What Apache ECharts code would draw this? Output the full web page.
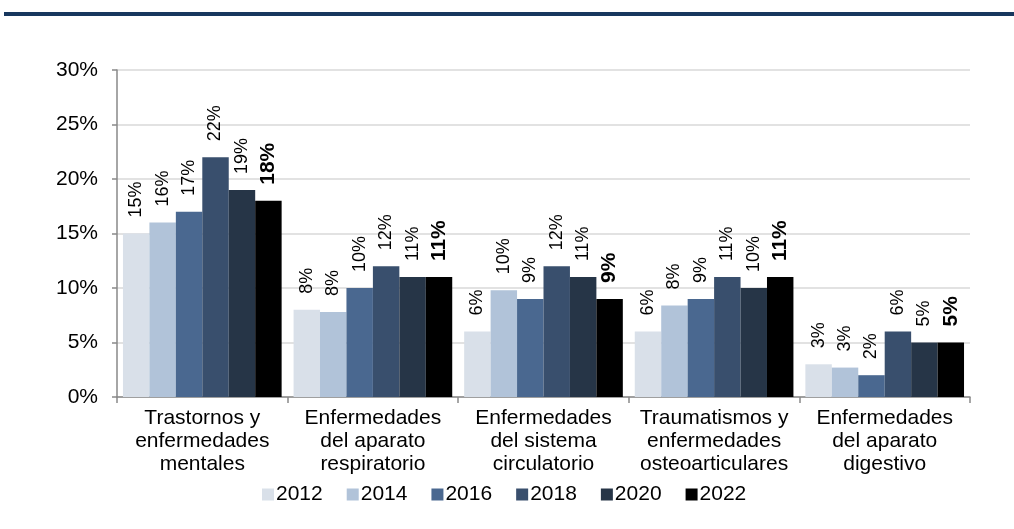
<!DOCTYPE html>
<html>
<head>
<meta charset="utf-8">
<script src="https://cdn.jsdelivr.net/npm/echarts@6/dist/echarts.min.js"></script>
<style>
  html, body { margin: 0; padding: 0; background: #ffffff; }
  #chart { width: 1014px; height: 529px; }
</style>
</head>
<body>
<div id="chart"></div>
<script>
// Categories (diagnosis groups) and yearly shares, in percent
const categories = [
  'Trastornos y\nenfermedades\nmentales',
  'Enfermedades\ndel aparato\nrespiratorio',
  'Enfermedades\ndel sistema\ncirculatorio',
  'Traumatismos y\nenfermedades\nosteoarticulares',
  'Enfermedades\ndel aparato\ndigestivo'
];
const years = ['2012', '2014', '2016', '2018', '2020', '2022'];
const v2012 = [15, 8.0, 6.0, 6.0, 3.0];
const v2014 = [16, 7.8, 9.8, 8.4, 2.7];
const v2016 = [17, 10, 9.0, 9.0, 2.0];
const v2018 = [22, 12, 12, 11, 6.0];
const v2020 = [19, 11, 11, 10, 5.0];
const v2022 = [18, 11, 9.0, 11, 5.0];
const yTicks = [0, 5, 10, 15, 20, 25, 30];

const seriesValues = [v2012, v2014, v2016, v2018, v2020, v2022];
const colors = ['#D9E0E9', '#B1C3D9', '#4A6890', '#394F6D', '#263547', '#000000'];
const FONT = '"Liberation Sans", Arial, sans-serif';

const chart = echarts.init(document.getElementById('chart'), null, { renderer: 'canvas' });

const series = seriesValues.map((vals, i) => {
  const last = i === seriesValues.length - 1;
  return {
    name: years[i],
    type: 'bar',
    data: vals,
    barGap: '0%',
    barCategoryGap: '7%',
    itemStyle: { color: colors[i] },
    label: {
      show: true,
      position: 'top',
      rotate: 90,
      align: 'left',
      verticalAlign: 'middle',
      distance: 16,
      fontFamily: FONT,
      fontSize: last ? 21 : 18,
      fontWeight: last ? 'bold' : 'normal',
      color: '#000',
      formatter: p => Math.round(p.value) + '%'
    }
  };
});

chart.setOption({
  animation: false,
  backgroundColor: '#ffffff',
  color: colors,
  graphic: [{
    type: 'rect',
    shape: { x: 4, y: 12, width: 1010, height: 4 },
    style: { fill: '#17375E' },
    silent: true
  }],
  grid: { left: 117, right: 44, top: 70, bottom: 132, containLabel: false },
  legend: {
    data: years,
    left: 257,
    top: 479,
    itemWidth: 12,
    itemHeight: 12,
    itemGap: 24,
    icon: 'rect',
    textStyle: { fontFamily: FONT, fontSize: 21, color: '#000', padding: [0, 0, 0, -3] }
  },
  xAxis: {
    type: 'category',
    data: categories,
    axisLine: { lineStyle: { color: '#898989', width: 1.5 } },
    axisTick: { show: true, length: 6, lineStyle: { color: '#898989', width: 1.5 } },
    axisLabel: {
      fontFamily: FONT,
      fontSize: 21,
      lineHeight: 23,
      color: '#000',
      margin: 10,
      interval: 0
    }
  },
  yAxis: {
    type: 'value',
    min: yTicks[0],
    max: yTicks[yTicks.length - 1],
    interval: 5,
    axisLine: { show: true, lineStyle: { color: '#898989', width: 1.5 } },
    axisTick: { show: true, inside: false, length: 5, lineStyle: { color: '#898989', width: 1.5 } },
    splitLine: { lineStyle: { color: '#D9D9D9', width: 1.5 } },
    axisLabel: {
      fontFamily: FONT,
      fontSize: 21,
      color: '#000',
      margin: 19,
      formatter: v => v + '%'
    }
  },
  series: series
});
</script>
</body>
</html>
